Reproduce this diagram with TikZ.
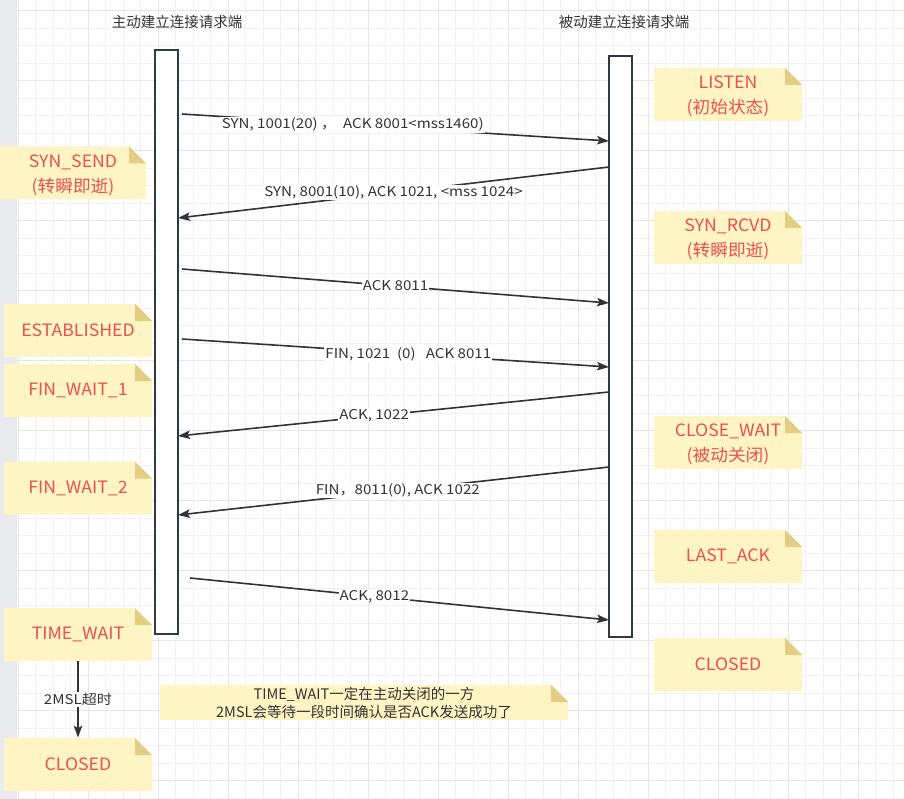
\documentclass[tikz,border=0pt]{standalone}
\usepackage{fontspec}
\setmainfont{Noto Sans CJK SC}
\newfontfamily\labelfont{Noto Sans CJK SC}[FakeStretch=1.12]
\newfontfamily\statefont{Noto Sans CJK SC}[FakeStretch=1.04]
\usepackage{tikz}
\usetikzlibrary{arrows.meta}
\tikzset{every picture/.style={line width=0.75pt}}
\definecolor{notefill}{HTML}{FFF4C3}
\definecolor{notefold}{HTML}{E3CD82}
\definecolor{notered}{HTML}{EA5050}
\definecolor{inkgray}{HTML}{333333}
\definecolor{barline}{HTML}{2F3A40}
\definecolor{gridminor}{HTML}{F1F1F1}
\definecolor{gridmajor}{HTML}{E6E6E6}
\definecolor{sidebar}{HTML}{E9EAED}
\newcommand\uplift{\rule{0pt}{16.5pt}}

\begin{document}
\begin{tikzpicture}[x=1pt,y=-1pt,
        lifeline/.style={draw=barline, line width=1.6pt, fill=white, minimum width=23pt, inner sep=0pt},
        msg/.style={draw=inkgray, line width=1.6pt, -{Stealth[length=12pt,width=8.5pt,inset=2.5pt]}},
        msglabel/.style={fill=white, inner sep=1pt, text=inkgray, font=\labelfont\fontsize{13.5}{16}\selectfont},
        state/.style={minimum width=148pt, minimum height=53pt, inner sep=0pt, align=center,
            text=notered, font=\statefont\fontsize{17}{25}\selectfont,
            path picture={
                \fill[notefill] (path picture bounding box.south west) -- (path picture bounding box.north west)
                    -- ([xshift=-17pt]path picture bounding box.north east) -- ([yshift=-17pt]path picture bounding box.north east)
                    -- (path picture bounding box.south east) -- cycle;
                \fill[notefold] ([xshift=-17pt]path picture bounding box.north east)
                    -- ([xshift=-17pt,yshift=-17pt]path picture bounding box.north east)
                    -- ([yshift=-17pt]path picture bounding box.north east) -- cycle;
            }},
        side/.style={text=inkgray, font=\fontsize{14.5}{16}\selectfont}]
        % background
        \useasboundingbox (0,0) rectangle (904,799);
        \fill[white] (0,0) rectangle (904,799);
        \foreach \k in {0,...,51} \draw[gridminor, line width=1pt] ({0.8+17.5*\k},0) -- ({0.8+17.5*\k},799);
        \foreach \k in {0,...,45} \draw[gridminor, line width=1pt] (0,{10.8+17.5*\k}) -- (904,{10.8+17.5*\k});
        \foreach \k in {0,...,12} \draw[gridmajor, line width=1pt] ({18.3+70*\k},0) -- ({18.3+70*\k},799);
        \foreach \k in {0,...,11} \draw[gridmajor, line width=1pt] (0,{10.8+70*\k}) -- (904,{10.8+70*\k});
        \fill[sidebar] (0,0) rectangle (17,799);

        % the two ends
        \node[side] (clientname) at (177,22) {主动建立连接请求端};
        \node[side] (servername) at (624,22) {被动建立连接请求端};
        \node[lifeline, minimum height=584pt] (client) at (166.5,342) {};
        \node[lifeline, minimum height=581pt] (server) at (620.5,346.5) {};

        % states
        \node[state] (listen) at (728,94.5) {\uplift LISTEN\\(初始状态)};
        \node[state] (synrcvd) at (728,237.5) {\uplift SYN\_RCVD\\(转瞬即逝)};
        \node[state] (closewait) at (728,442.5) {\uplift CLOSE\_WAIT\\(被动关闭)};
        \node[state] (lastack) at (728,556.5) {LAST\_ACK};
        \node[state] (serverclosed) at (728,664.5) {CLOSED};
        \node[state, minimum width=146pt] (synsend) at (73,173) {\uplift SYN\_SEND\\(转瞬即逝)};
        \node[state] (established) at (78,330.5) {ESTABLISHED};
        \node[state] (finwaitone) at (78,390.5) {FIN\_WAIT\_1};
        \node[state] (finwaittwo) at (78,488) {FIN\_WAIT\_2};
        \node[state] (timewait) at (78,634.5) {TIME\_WAIT};
        \node[state] (clientclosed) at (78,764.5) {CLOSED};
        \node[state, minimum width=408pt, minimum height=35pt, text=inkgray, font=\fontsize{14.5}{18}\selectfont]
            (remark) at (364,702.5) {TIME\_WAIT一定在主动关闭的一方\\2MSL会等待一段时间确认是否ACK发送成功了};

        % message ends
        \coordinate (c1) at (182,114); \coordinate (s1) at (609,141);
        \coordinate (s2) at (609,167); \coordinate (c2) at (178,218);
        \coordinate (c3) at (182,269); \coordinate (s3) at (609,303);
        \coordinate (c4) at (182,339); \coordinate (s4) at (609,367);
        \coordinate (s5) at (609,392); \coordinate (c5) at (178,436);
        \coordinate (s6) at (609,467); \coordinate (c6) at (178,515);
        \coordinate (c7) at (190,578); \coordinate (s7) at (609,620);

        \draw
            (c1) edge[msg] node[msglabel, pos=.4] {SYN, 1001(20)~，~~ACK 8001<mss1460)} (s1)
            (s2) edge[msg] node[msglabel, pos=.5] {SYN, 8001(10), ACK 1021, <mss 1024>} (c2)
            (c3) edge[msg] node[msglabel, pos=.5] {ACK 8011} (s3)
            (c4) edge[msg] node[msglabel, pos=.53] {FIN, 1021~~(0)~~~ACK 8011} (s4)
            (s5) edge[msg] node[msglabel, pos=.545] {ACK, 1022} (c5)
            (s6) edge[msg] node[msglabel, pos=.49] {FIN，8011(0), ACK 1022} (c6)
            (c7) edge[msg] node[msglabel, pos=.44] {ACK, 8012} (s7)
            (timewait) edge[msg] node[msglabel] {2MSL超时} (clientclosed)
            ;
\end{tikzpicture}
\end{document}
